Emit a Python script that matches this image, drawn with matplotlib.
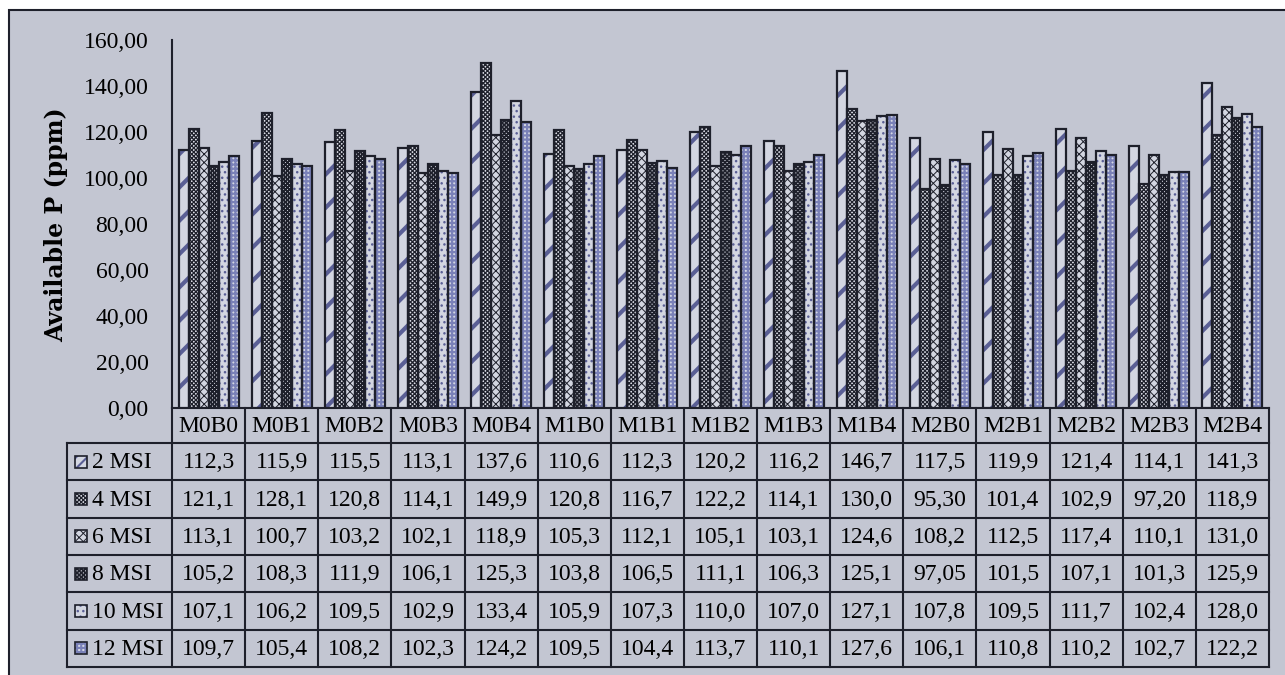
import matplotlib
matplotlib.use("Agg")
import matplotlib.pyplot as plt
from matplotlib.patches import Rectangle
import numpy as np

categories = ["M0B0", "M0B1", "M0B2", "M0B3", "M0B4", "M1B0", "M1B1", "M1B2",
              "M1B3", "M1B4", "M2B0", "M2B1", "M2B2", "M2B3", "M2B4"]
series_names = ["2 MSI", "4 MSI", "6 MSI", "8 MSI", "10 MSI", "12 MSI"]
msi2 = [112.3, 115.9, 115.5, 113.1, 137.6, 110.6, 112.3, 120.2, 116.2, 146.7, 117.5, 119.9, 121.4, 114.1, 141.3]
msi4 = [121.1, 128.1, 120.8, 114.1, 149.9, 120.8, 116.7, 122.2, 114.1, 130.0, 95.30, 101.4, 102.9, 97.20, 118.9]
msi6 = [113.1, 100.7, 103.2, 102.1, 118.9, 105.3, 112.1, 105.1, 103.1, 124.6, 108.2, 112.5, 117.4, 110.1, 131.0]
msi8 = [105.2, 108.3, 111.9, 106.1, 125.3, 103.8, 106.5, 111.1, 106.3, 125.1, 97.05, 101.5, 107.1, 101.3, 125.9]
msi10 = [107.1, 106.2, 109.5, 102.9, 133.4, 105.9, 107.3, 110.0, 107.0, 127.1, 107.8, 109.5, 111.7, 102.4, 128.0]
msi12 = [109.7, 105.4, 108.2, 102.3, 124.2, 109.5, 104.4, 113.7, 110.1, 127.6, 106.1, 110.8, 110.2, 102.7, 122.2]
series = [msi2, msi4, msi6, msi8, msi10, msi12]
y_ticks = [0, 20, 40, 60, 80, 100, 120, 140, 160]
y_label = "Available P (ppm)"

BG = "#C3C6D2"
DARK = "#1E202B"
BLUE = "#5A5F95"
styles = [
    dict(fill="#D3D6E1", hatch="/", key="///", hc=BLUE, hlw=3.0),
    dict(fill="#DCDEE7", hatch="xxxxxxxx", key="xxxxxxxx", hc=DARK, hlw=0.9),
    dict(fill="#D3D6E1", hatch="xxxx", key="xxxx", hc=DARK, hlw=0.7),
    dict(fill="#C6C8D2", hatch="xxxxxxxx", key="xxxxxxxx", hc=DARK, hlw=1.2),
    dict(fill="#D3D6E1", hatch="...", key="...", hc=BLUE, hlw=1.0),
    dict(fill="#D3D6E3", hatch="++++", key="++++", hc="#7A81B8", hlw=1.6),
]

plt.rcParams["font.family"] = ["Liberation Serif", "DejaVu Serif"]
plt.rcParams["hatch.linewidth"] = 1.0

W, H = 1285, 675
fig = plt.figure(figsize=(W / 100, H / 100), dpi=100)
fig.patch.set_facecolor("white")

# background / table layer in pixel coordinates
bgax = fig.add_axes([0, 0, 1, 1], zorder=0)
bgax.set_xlim(0, W)
bgax.set_ylim(H, 0)
bgax.axis("off")
bgax.add_patch(Rectangle((9, 10), W + 20, H + 20, facecolor=BG, edgecolor=DARK, lw=1.5,
                         clip_on=False))

ax_l, ax_r, ax_t, ax_b = 172, 1269, 40, 408
ax = fig.add_axes([ax_l / W, 1 - ax_b / H, (ax_r - ax_l) / W, (ax_b - ax_t) / H], zorder=2)
ax.set_facecolor("none")

n = len(series)
bw = 0.137
x = np.arange(len(categories))


def set_hlw(p, v):
    if hasattr(p, "set_hatch_linewidth"):
        try:
            p.set_hatch_linewidth(v)
        except Exception:
            pass


for i, (vals, st) in enumerate(zip(series, styles)):
    off = (i - (n - 1) / 2) * bw
    bars = ax.bar(x + off, vals, width=bw, color=st["fill"], edgecolor=st["hc"],
                  hatch=st["hatch"], linewidth=0, zorder=2)
    for b in bars:
        set_hlw(b, st["hlw"])
    ax.bar(x + off, vals, width=bw, fill=False, edgecolor=DARK, linewidth=1.6, zorder=3)

ax.set_xlim(-0.5, len(categories) - 0.5)
ax.set_ylim(0, 160)
ax.set_yticks(y_ticks)
ax.set_yticklabels([f"{v:.2f}".replace(".", ",") for v in y_ticks], fontsize=17)
ax.tick_params(axis="y", length=0, pad=17, colors="black")
ax.set_xticks([])
for s in ["top", "right", "bottom"]:
    ax.spines[s].set_visible(False)
ax.spines["left"].set_color(DARK)
ax.spines["left"].set_linewidth(1.5)
fig.text(56 / W, 1 - 225 / H, y_label, rotation=90, ha="center", va="center",
         fontsize=17, fontweight="bold", family=["DejaVu Serif"])

# table
tl = 67
hdr_top, hdr_bot = 408, 443
row_h = (667 - 443) / 6
col_w = (ax_r - ax_l) / len(categories)
lw = 1.5
bgax.plot([ax_l, ax_r], [hdr_top, hdr_top], color=DARK, lw=lw)
for k in range(7):
    yy = hdr_bot + k * row_h
    bgax.plot([tl, ax_r], [yy, yy], color=DARK, lw=lw)
bgax.plot([tl, tl], [hdr_bot, 667], color=DARK, lw=lw)
for j in range(len(categories) + 1):
    xx = ax_l + j * col_w
    bgax.plot([xx, xx], [hdr_top, 667], color=DARK, lw=lw)
for j, c in enumerate(categories):
    bgax.text(ax_l + (j + 0.5) * col_w, (hdr_top + hdr_bot) / 2 + 1, c, ha="center",
              va="center", fontsize=17)


def fmt(v):
    s = f"{v:.1f}" if v >= 100 else f"{v:.2f}"
    return s.replace(".", ",")


for k, (name, vals, st) in enumerate(zip(series_names, series, styles)):
    yc = hdr_bot + (k + 0.5) * row_h
    r = Rectangle((75, yc - 6), 12, 12, facecolor=st["fill"], edgecolor=st["hc"],
                  hatch=st["key"], lw=0)
    set_hlw(r, min(st["hlw"], 1.5))
    bgax.add_patch(r)
    bgax.add_patch(Rectangle((75, yc - 6), 12, 12, fill=False, edgecolor=DARK, lw=1.2))
    bgax.text(92, yc + 1, name, ha="left", va="center", fontsize=17)
    for j, v in enumerate(vals):
        bgax.text(ax_l + (j + 0.5) * col_w, yc + 1, fmt(v), ha="center", va="center",
                  fontsize=17)

fig.savefig("out.png", dpi=100)
